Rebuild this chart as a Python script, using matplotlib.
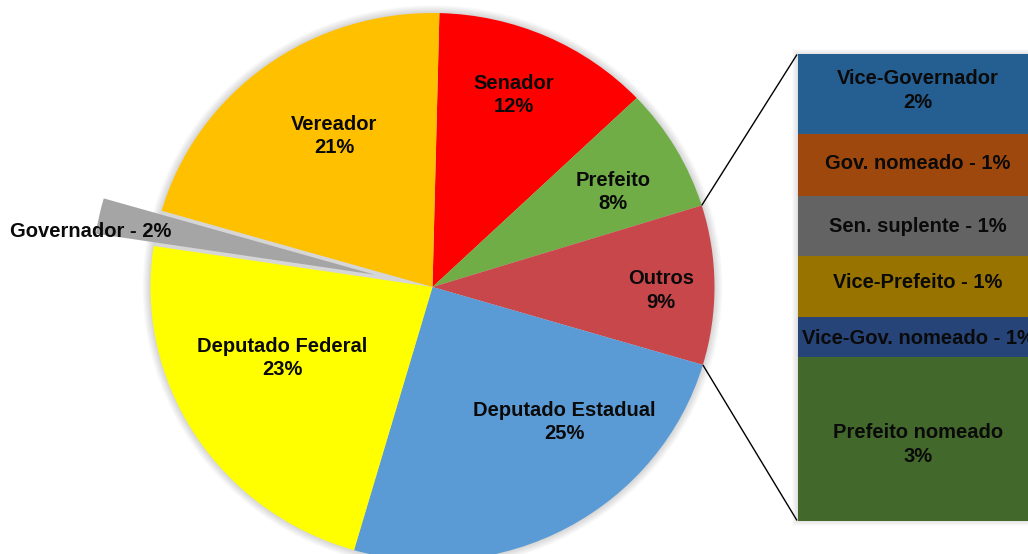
import matplotlib
matplotlib.use("Agg")
import matplotlib.pyplot as plt
from matplotlib.patches import Wedge, Ellipse, Rectangle
import numpy as np

# ---------------- data ----------------
pie_names = ["Senador", "Prefeito", "Outros", "Deputado Estadual",
             "Deputado Federal", "Governador", "Vereador"]
pie_values = [12.5, 7.3, 9.4, 24.9, 22.9, 2.1, 20.9]
pie_pct = [12, 8, 9, 25, 23, 2, 21]
pie_colors = ["#FF0000", "#70AD47", "#C8474A", "#5B9BD5",
              "#FFFF00", "#A5A5A5", "#FFC000"]

bar_names = ["Vice-Governador", "Gov. nomeado", "Sen. suplente",
             "Vice-Prefeito", "Vice-Gov. nomeado", "Prefeito nomeado"]
bar_values = [1.54, 1.19, 1.16, 1.18, 0.77, 3.16]
bar_pct = [2, 1, 1, 1, 1, 3]
bar_colors = ["#255E91", "#9E480E", "#636363", "#997300", "#264478", "#43682B"]

# ---------------- layout ----------------
W, H = 1028, 554
K = 282 / 274.0          # slight vertical squash of the original pie


def Y(ypx):
    return (H - ypx) * K


cx, cy, R = 432.5, Y(287), 282
explode_frac = [0, 0, 0, 0, 0, 0.21, 0]
pie_two_line = [True, True, True, True, True, False, True]
pie_label_pos = [(514, 95), (613, 192), (661, 290.5), (564.5, 422),
                 (282.5, 358), (90.5, 232), (334, 136)]

bar_x, bar_w = 918, 240
bar_top, bar_bot = Y(54.5), Y(520.5)
bar_two_line = [True, False, False, False, False, True]
bar_label_y = [90.5, 164, 226, 283, 338, 444.5]

FONT = dict(family="Liberation Sans", fontweight="bold", fontsize=14.5,
            color="#0A0A0A", ha="center", va="center", linespacing=1.28)

fig = plt.figure(figsize=(W / 100, H / 100), dpi=100)
ax = fig.add_axes([0, 0, 1, 1])

wedges, _ = ax.pie(pie_values, colors=pie_colors, startangle=88.6,
                   counterclock=False, center=(cx, cy), radius=R,
                   explode=[e * R for e in explode_frac],
                   wedgeprops=dict(linewidth=0))
for w in wedges:
    w.set_zorder(3)
ax.set_aspect("auto")
ax.set_xlim(0, W)
ax.set_ylim(0, H * K)
ax.axis("off")

# soft glow / shadow around the pie
for d in range(1, 9):
    ax.add_patch(Ellipse((cx, cy), 2 * (R + d), 2 * (R + d),
                         facecolor="black", alpha=0.018, lw=0, zorder=1))

# light shadow left behind by the exploded slice
gw = wedges[5]
ax.add_patch(Wedge((cx, cy), R, gw.theta1, gw.theta2,
                   facecolor="#D6D6D6", lw=0, zorder=2))

# stacked bar
scale = (bar_top - bar_bot) / sum(bar_values)
heights = [v * scale for v in bar_values]
bottoms = [bar_top - sum(heights[:i + 1]) for i in range(len(heights))]
for d in range(1, 7):
    ax.add_patch(Rectangle((bar_x - bar_w / 2 - d, bar_bot - d),
                           bar_w + 2 * d, bar_top - bar_bot + 2 * d,
                           facecolor="black", alpha=0.02, lw=0, zorder=1))
ax.bar([bar_x] * len(bar_values), heights, bottom=bottoms, width=bar_w,
       color=bar_colors, linewidth=0, zorder=3)

# connector lines from the "Outros" slice to the bar
ow = wedges[2]
ocx, ocy = ow.center
for th, yb in [(ow.theta2, bar_top), (ow.theta1, bar_bot)]:
    px = ocx + R * np.cos(np.radians(th))
    py = ocy + R * np.sin(np.radians(th))
    ax.plot([px, bar_x - bar_w / 2 - 1], [py, yb], color="black", lw=1.0,
            zorder=4, solid_capstyle="butt")

# labels
for name, pct, two, (lx, ly) in zip(pie_names, pie_pct, pie_two_line,
                                   pie_label_pos):
    txt = f"{name}\n{pct}%" if two else f"{name} - {pct}%"
    ax.text(lx, Y(ly), txt, zorder=5, **FONT)

for name, pct, two, ly in zip(bar_names, bar_pct, bar_two_line, bar_label_y):
    txt = f"{name}\n{pct}%" if two else f"{name} - {pct}%"
    ax.text(bar_x, Y(ly), txt, zorder=5, **FONT)

fig.savefig("out.png", dpi=100, facecolor="white")
